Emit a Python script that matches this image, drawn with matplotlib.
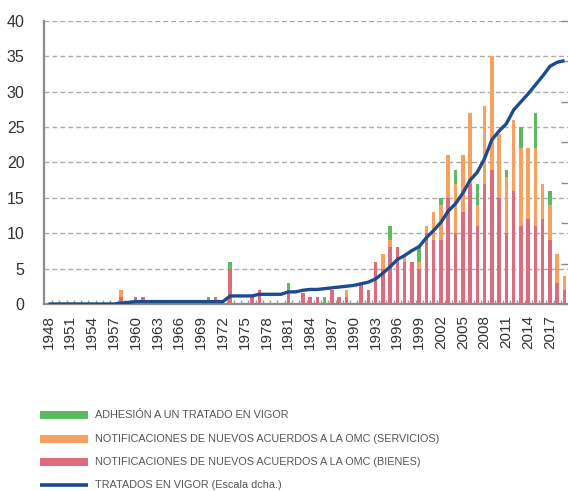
import matplotlib
matplotlib.use('Agg')
import matplotlib.pyplot as plt
import matplotlib.ticker as ticker
from matplotlib.lines import Line2D
import numpy as np

# data
years = list(range(1948, 2020))

# notificaciones OMC (bienes)
bienes = [0, 0, 0, 0, 0, 0, 0, 0, 0, 0,          # 1948-1957
          1, 0, 1, 1, 0, 0, 0, 0, 0, 0,          # 1958-1967
          0, 0, 0, 1, 0, 5, 0, 0, 1, 2,          # 1968-1977
          0, 0, 0, 2, 0, 1.6, 1, 1, 0, 2,        # 1978-1987
          1, 1, 0, 2.7, 2, 6, 5, 8, 8, 6,        # 1988-1997
          6, 5, 10, 9, 9, 15, 10, 13, 17, 11,    # 1998-2007
          17, 19, 15, 10, 16, 11, 12, 11, 12, 9, # 2008-2017
          3, 2]                                  # 2018-2019

# notificaciones OMC (servicios)
servicios = [0, 0, 0, 0, 0, 0, 0, 0, 0, 0,
             1, 0, 0, 0, 0, 0, 0, 0, 0, 0,
             0, 0, 0, 0, 0, 0, 0, 0, 0, 0,
             0, 0, 0, 0, 0, 0, 0, 0, 0, 0,
             0, 1, 0, 0, 0, 0, 2, 1, 0, 1,
             0, 1, 1, 4, 5, 6, 7, 8, 10, 3,
             11, 16, 9, 8, 10, 11, 10, 11, 5, 5,
             4, 2]

# adhesion a un tratado en vigor
adhesion = [0, 0, 0, 0, 0, 0, 0, 0, 0, 0,
            0, 0, 0, 0, 0, 0, 0, 0, 0, 0,
            0, 0, 1, 0, 0, 1, 0, 0, 0, 0,
            0, 0, 0, 1, 0, 0, 0, 0, 1, 0,
            0, 0, 0, 0, 0, 0, 0, 2, 0, 0,
            0, 2, 0, 0, 1, 0, 2, 0, 0, 3,
            0, 0, 0, 1, 0, 3, 0, 5, 0, 2,
            0, 0]

# tratados en vigor (escala dcha.)
tratados = [0, 0, 0, 0, 0, 0, 0, 0, 0, 0,
            1, 2, 3, 3, 3, 3, 3, 3, 3, 3,
            3, 3, 3, 3, 3, 10, 10, 10, 10, 12,
            12, 12, 12, 15, 15, 17, 18, 18, 19, 20,
            21, 22, 23, 25, 27, 31, 38, 46, 55, 60,
            66, 71, 82, 91, 101, 115, 124, 137, 153, 163,
            180, 203, 214, 223, 240, 250, 260, 271, 282, 294,
            299, 301]

labels = ['ADHESIÓN A UN TRATADO EN VIGOR',
          'NOTIFICACIONES DE NUEVOS ACUERDOS A LA OMC (SERVICIOS)',
          'NOTIFICACIONES DE NUEVOS ACUERDOS A LA OMC (BIENES)',
          'TRATADOS EN VIGOR (Escala dcha.)']

# colors
c_green = '#5dba63'
c_orange = '#f8a15e'
c_red = '#dc6c7d'
c_blue = '#1d4b8d'
c_grey = '#8c8c8c'
c_text = '#333333'

plt.rcParams['font.family'] = ['Liberation Sans', 'DejaVu Sans']

W, H = 568, 491
fig = plt.figure(figsize=(W / 100, H / 100), dpi=100)

# axes box in pixels: left 44, right 568, top 21, bottom 304
ax = fig.add_axes([44 / W, (H - 304) / H, 524 / W, 283 / H])

x = np.arange(len(years))
bienes = np.array(bienes, dtype=float)
servicios = np.array(servicios, dtype=float)
adhesion = np.array(adhesion, dtype=float)

bw = 0.48
ax.bar(x, bienes, bw, color=c_red, zorder=2)
ax.bar(x, servicios, bw, bottom=bienes, color=c_orange, zorder=2)
ax.bar(x, adhesion, bw, bottom=bienes + servicios, color=c_green, zorder=2)

ax.set_xlim(-0.62, 71.48)
ax.set_ylim(0, 40)
ax.set_yticks(np.arange(0, 41, 5))
ax.yaxis.grid(True, color='#ababab', lw=1.0, ls=(0, (3.5, 2.2)), zorder=0)
ax.set_axisbelow(True)

ax.set_xticks(x[::3])
ax.set_xticklabels([str(y) for y in years[::3]], rotation=90)
ax.xaxis.set_minor_locator(ticker.FixedLocator(x + 0.5))
ax.tick_params(axis='x', which='major', length=0, pad=8, labelsize=11, labelcolor=c_text)
ax.tick_params(axis='x', which='minor', direction='in', length=3, width=1, color='#9a9a9a')
ax.tick_params(axis='y', length=0, pad=14, labelsize=11.5, labelcolor=c_text)

for s in ['top', 'right']:
    ax.spines[s].set_visible(False)
ax.spines['left'].set_color(c_grey)
ax.spines['left'].set_linewidth(1.6)
ax.spines['bottom'].set_color(c_grey)
ax.spines['bottom'].set_linewidth(1.6)

# right axis (no labels, only inner ticks)
ax2 = ax.twinx()
ax2.plot(x, tratados, color=c_blue, lw=2.4, zorder=3, solid_capstyle='butt')
ax2.set_ylim(0, 350)
ax2.set_yticks(np.arange(0, 351, 50))
ax2.set_yticklabels([])
ax2.tick_params(axis='y', direction='in', length=5, width=1, color='#8c8c8c')
for s in ['top', 'right', 'left', 'bottom']:
    ax2.spines[s].set_visible(False)

# legend below the plot
leg_colors = [c_green, c_orange, c_red, c_blue]
leg_y = [415, 438.5, 462, 485]
leg_lw = [5.8, 5.8, 5.8, 2.6]
for lab, col, yy, lw in zip(labels, leg_colors, leg_y, leg_lw):
    yf = (H - yy) / H
    fig.add_artist(Line2D([40 / W, 88 / W], [yf, yf], transform=fig.transFigure,
                          color=col, lw=lw, solid_capstyle='butt'))
    fig.text(95 / W, yf, lab, fontsize=7.8, color='#555555', va='center', ha='left')

fig.savefig('out.png', dpi=100)
